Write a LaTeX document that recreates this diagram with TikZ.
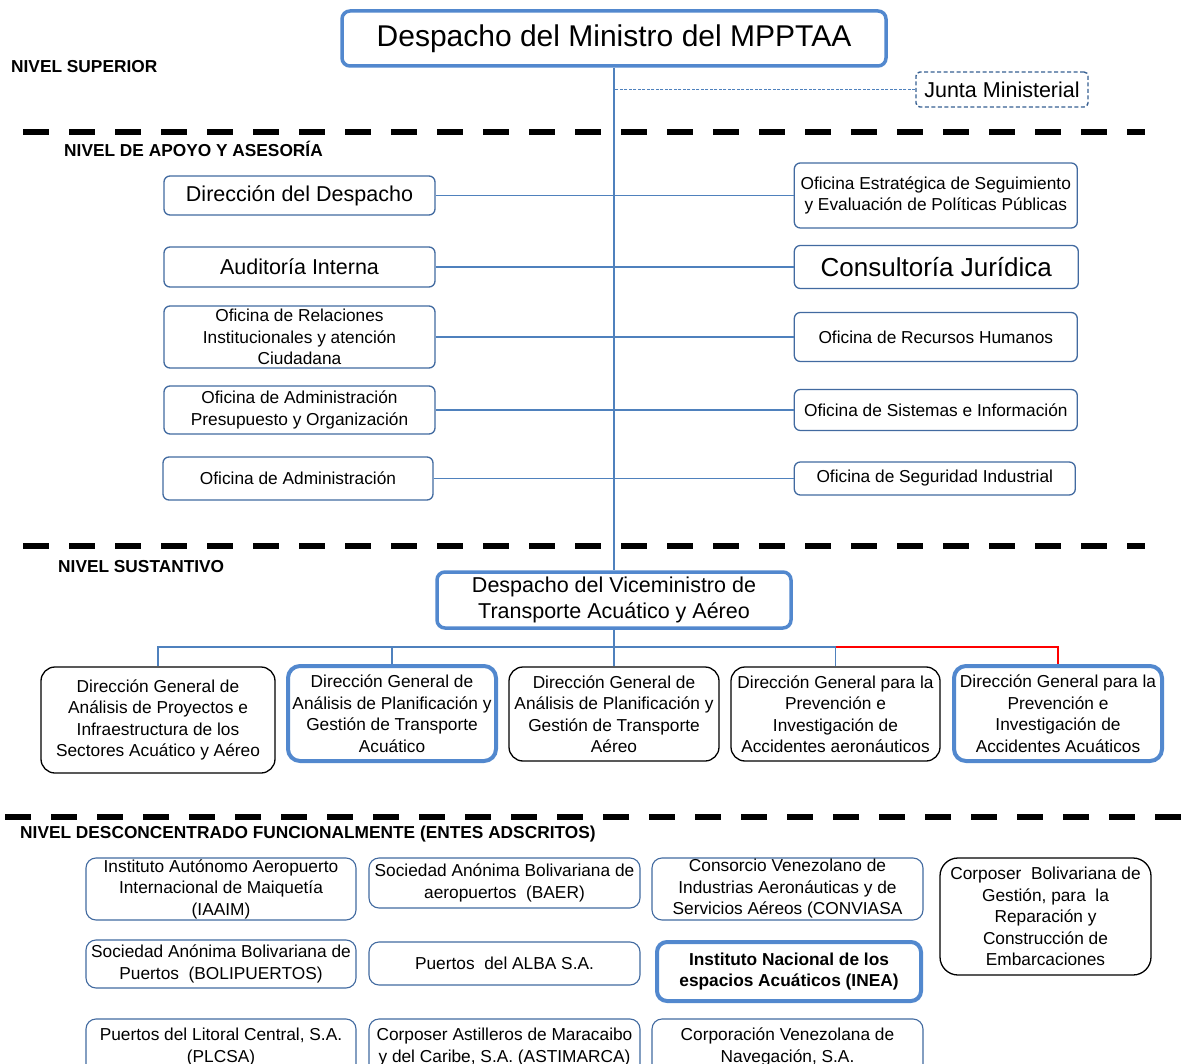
\documentclass[tikz,border=0pt]{standalone}
\usepackage{fontspec}
\setmainfont{Liberation Sans}
\usepackage{xcolor}
\usetikzlibrary{positioning}

\definecolor{lineblue}{RGB}{79,129,189}
\definecolor{boxblue}{RGB}{66,106,160}
\definecolor{thickblue}{RGB}{82,136,206}
\definecolor{juntablue}{RGB}{55,96,146}

\newcommand{\txtsmall}{\fontsize{17.3}{21.5}\selectfont}
\newcommand{\txtmid}{\fontsize{21.5}{26.5}\selectfont}
\newcommand{\txtbig}{\fontsize{26}{30}\selectfont}
\newcommand{\txttitle}{\fontsize{30}{34}\selectfont}

\begin{document}
\begin{tikzpicture}[x=1pt, y=-1pt,
  every node/.style={align=center, inner sep=0pt, font=\txtsmall},
  despacho/.style={rounded corners=8pt, draw=thickblue, line width=3.5pt, fill=white},
  oficina/.style={rounded corners=6pt, draw=boxblue, line width=1.3pt, minimum width=271pt},
  direccion/.style={rounded corners=14pt, draw=black, line width=1.3pt, minimum width=210pt},
  direccionazul/.style={rounded corners=12pt, draw=thickblue, line width=4pt, minimum width=208pt},
  ente/.style={rounded corners=10pt, draw=boxblue, line width=1.1pt, minimum width=271pt},
  nivel/.style={anchor=west, font=\txtsmall\bfseries},
  separador/.style={line width=6.5pt, dash pattern=on 26pt off 20pt},
  link/.style={draw=lineblue, line width=1.6pt},
  redlink/.style={draw=red, line width=1.6pt}
]
\useasboundingbox[fill=white] (0,0) rectangle (1194,1064);
\clip (0,0) rectangle (1194,1064);

% Nivel superior
\node[despacho, minimum width=544pt, minimum height=55pt, font=\txttitle] (mpptaa) at (614,38.5) {Despacho del Ministro del MPPTAA};
\node[draw=juntablue, line width=1.4pt, dash pattern=on 4pt off 2.5pt, rounded corners=4pt,
      minimum width=172pt, minimum height=35pt, font=\txtmid] (junta) at (1002,89.5) {Junta Ministerial};

% Niveles
\node[nivel] (nsup) at (11,67) {NIVEL SUPERIOR};
\node[nivel] (napoyo) at (64,149) {NIVEL DE APOYO Y ASESORÍA};
\node[nivel] (nsust) at (58,567) {NIVEL SUSTANTIVO};
\node[nivel] (ndesc) at (20,834) {NIVEL DESCONCENTRADO FUNCIONALMENTE (ENTES ADSCRITOS)};

\draw[separador] (23,132) -- (1145,132);
\draw[separador] (23,546) -- (1145,546);
\draw[separador] (5,817) -- (1194,817);

% Apoyo y asesoria, lado izquierdo
\node[oficina, minimum height=39pt, font=\txtmid] (l1) at (299.5,195.5) {Dirección del Despacho};
\node[oficina, minimum height=40pt, font=\txtmid] (l2) at (299.5,267) {Auditoría Interna};
\node[oficina, minimum height=62pt] (l3) at (299.5,337) {Oficina de Relaciones\\Institucionales y atención\\Ciudadana};
\node[oficina, minimum height=48pt] (l4) at (299.5,410) {Oficina de Administración\\Presupuesto y Organización};
\node[oficina, minimum height=43pt, minimum width=270pt] (l5) at (298,478.5) {Oficina de Administración};

% Apoyo y asesoria, lado derecho
\node[oficina, minimum width=283pt, minimum height=65pt, right=358pt of l1] (r1) {Oficina Estratégica de Seguimiento\\y Evaluación de Políticas Públicas};
\node[oficina, minimum width=284pt, minimum height=43pt, font=\txtbig, right=358pt of l2] (r2) {Consultoría Jurídica};
\node[oficina, minimum width=283pt, minimum height=49pt, right=358pt of l3] (r3) {Oficina de Recursos Humanos};
\node[oficina, minimum width=283pt, minimum height=41pt, right=358pt of l4] (r4) {Oficina de Sistemas e Información};
\node[oficina, minimum width=281pt, minimum height=33pt, right=360pt of l5] (r5) {Oficina de Seguridad Industrial};

% Nivel sustantivo
\node[despacho, minimum width=354pt, minimum height=56pt, font=\txtmid] (vice) at (614,600) {Despacho del Viceministro de\\Transporte Acuático y Aéreo};

\node[direccion, minimum width=234pt, minimum height=106pt] (c1) at (158,720) {Dirección General de\\Análisis de Proyectos e\\Infraestructura de los\\Sectores Acuático y Aéreo};
\node[direccionazul, minimum height=95pt] (c2) at (392,713.5) {Dirección General de\\Análisis de Planificación y\\Gestión de Transporte\\Acuático};
\node[direccion, minimum height=94pt] (c3) at (614,714) {Dirección General de\\Análisis de Planificación y\\Gestión de Transporte\\Aéreo};
\node[direccion, minimum width=209pt, minimum height=94pt] (c4) at (835.5,714) {Dirección General para la\\Prevención e\\Investigación de\\Accidentes aeronáuticos};
\node[direccionazul, minimum height=95pt] (c5) at (1058,713.5) {Dirección General para la\\Prevención e\\Investigación de\\Accidentes Acuáticos};

% Entes adscritos
\node[ente, minimum width=270pt, minimum height=62pt] (iaaim) at (221,889) {Instituto Autónomo Aeropuerto\\Internacional de Maiquetía\\(IAAIM)};
\node[ente, minimum height=50pt] (baer) at (504.5,883) {Sociedad Anónima Bolivariana de\\aeropuertos\ \ (BAER)};
\node[ente, minimum height=62pt] (conviasa) at (787.5,889) {Consorcio Venezolano de\\Industrias Aeronáuticas y de\\Servicios Aéreos (CONVIASA};
\node[direccion, rounded corners=18pt, minimum width=211pt, minimum height=117pt] (corposer) at (1045.5,916.5) {Corposer\ \ Bolivariana de\\Gestión, para\ \ la\\Reparación y\\Construcción de\\Embarcaciones};
\node[ente, minimum width=270pt, minimum height=48pt] (bolipuertos) at (221,964) {Sociedad Anónima Bolivariana de\\Puertos\ \ (BOLIPUERTOS)};
\node[ente, minimum height=43pt] (alba) at (504.5,963.5) {Puertos\ \ del ALBA S.A.};
\node[ente, draw=thickblue, line width=4pt, minimum width=264pt, minimum height=59pt, font=\txtsmall\bfseries] (inea) at (789,971.5) {Instituto Nacional de los\\espacios Acuáticos (INEA)};
\node[ente, minimum width=270pt, minimum height=56pt] (plcsa) at (221,1047) {Puertos del Litoral Central, S.A.\\(PLCSA)};
\node[ente, minimum height=56pt] (astimarca) at (504.5,1047) {Corposer Astilleros de Maracaibo\\y del Caribe, S.A. (ASTIMARCA)};
\node[ente, minimum height=56pt] (conave) at (787.5,1047) {Corporación Venezolana de\\Navegación, S.A.};

% Lineas
\draw[link] (mpptaa.south) -- (vice.north);
\draw[draw=lineblue, line width=1pt, dash pattern=on 3pt off 1.5pt] (junta.west) -- (junta.west -| mpptaa.south);
\foreach \i in {1,...,5} {
  \draw[link] (l\i.east) -- (l\i.east -| vice.north);
  \draw[link] (r\i.west) -- (r\i.west -| vice.north);
}

\coordinate (bus) at (0,647);
\draw[link] (vice.south) -- (c3.north);
\draw[link] (c1.north) -- (c1.north |- bus) -- (c4.north |- bus) -- (c4.north);
\draw[link] (c2.north) -- (c2.north |- bus);
\draw[redlink] (c4.north |- bus) -- (c5.north |- bus) -- (c5.north);

\end{tikzpicture}
\end{document}
